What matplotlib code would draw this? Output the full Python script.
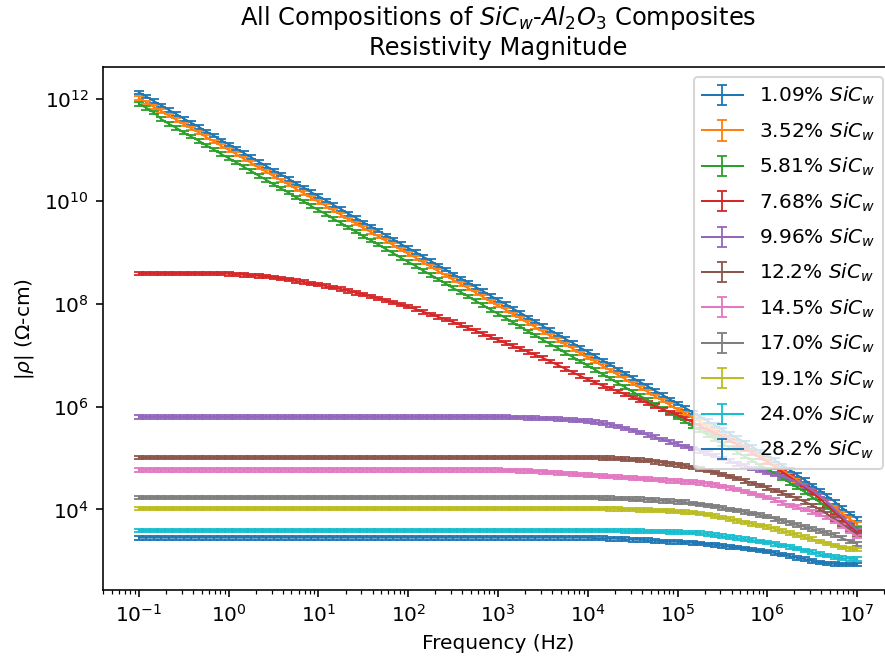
import numpy as np
import matplotlib
matplotlib.use('Agg')
import matplotlib.pyplot as plt

# frequency sweep: 0.1 Hz - 10 MHz, 12 points per decade
freq = np.logspace(-1, 7, 97)

labels = ['1.09%', '3.52%', '5.81%', '7.68%', '9.96%', '12.2%',
          '14.5%', '17.0%', '19.1%', '24.0%', '28.2%']

# log10 |rho| (Ohm-cm), one line per decade
lg_109 = [12.12, 12.04, 11.95, 11.87, 11.78, 11.70, 11.61, 11.53, 11.45, 11.36, 11.28, 11.19,
          11.11, 11.03, 10.94, 10.86, 10.77, 10.69, 10.60, 10.52, 10.44, 10.35, 10.27, 10.18,
          10.10, 10.02, 9.93, 9.85, 9.76, 9.68, 9.59, 9.51, 9.43, 9.34, 9.26, 9.17,
          9.09, 9.01, 8.92, 8.84, 8.75, 8.67, 8.58, 8.50, 8.42, 8.33, 8.25, 8.16,
          8.08, 8.00, 7.91, 7.83, 7.74, 7.66, 7.57, 7.49, 7.41, 7.32, 7.24, 7.15,
          7.07, 6.99, 6.90, 6.82, 6.73, 6.65, 6.56, 6.48, 6.40, 6.31, 6.23, 6.14,
          6.06, 5.98, 5.89, 5.81, 5.72, 5.64, 5.55, 5.47, 5.39, 5.30, 5.22, 5.13,
          5.05, 4.96, 4.86, 4.77, 4.67, 4.57, 4.47, 4.37, 4.26, 4.15, 4.03, 3.92,
          3.82]
lg_352 = [12.01, 11.93, 11.84, 11.76, 11.67, 11.59, 11.50, 11.42, 11.34, 11.25, 11.17, 11.08,
          11.00, 10.92, 10.83, 10.75, 10.66, 10.58, 10.49, 10.41, 10.33, 10.24, 10.16, 10.07,
          9.99, 9.91, 9.82, 9.74, 9.65, 9.57, 9.48, 9.40, 9.32, 9.23, 9.15, 9.06,
          8.98, 8.90, 8.81, 8.73, 8.64, 8.56, 8.47, 8.39, 8.31, 8.22, 8.14, 8.05,
          7.97, 7.89, 7.80, 7.72, 7.63, 7.55, 7.46, 7.38, 7.30, 7.21, 7.13, 7.04,
          6.96, 6.88, 6.79, 6.71, 6.62, 6.54, 6.45, 6.37, 6.29, 6.20, 6.12, 6.03,
          5.95, 5.87, 5.78, 5.70, 5.61, 5.53, 5.44, 5.36, 5.28, 5.19, 5.11, 5.02,
          4.94, 4.85, 4.76, 4.66, 4.56, 4.46, 4.36, 4.26, 4.15, 4.04, 3.92, 3.81,
          3.72]
lg_581 = [11.90, 11.82, 11.73, 11.60, 11.51, 11.43, 11.34, 11.26, 11.18, 11.09, 11.01, 10.92,
          10.84, 10.76, 10.67, 10.59, 10.50, 10.42, 10.33, 10.25, 10.17, 10.08, 10.00, 9.91,
          9.83, 9.75, 9.66, 9.58, 9.49, 9.41, 9.32, 9.24, 9.16, 9.07, 8.99, 8.90,
          8.82, 8.74, 8.65, 8.57, 8.48, 8.40, 8.31, 8.23, 8.15, 8.06, 7.98, 7.89,
          7.81, 7.73, 7.64, 7.56, 7.47, 7.39, 7.30, 7.22, 7.14, 7.05, 6.97, 6.88,
          6.80, 6.72, 6.63, 6.55, 6.46, 6.38, 6.29, 6.21, 6.13, 6.04, 5.96, 5.87,
          5.79, 5.71, 5.62, 5.54, 5.45, 5.37, 5.28, 5.20, 5.12, 5.03, 4.95, 4.86,
          4.78, 4.70, 4.61, 4.52, 4.43, 4.34, 4.24, 4.14, 4.04, 3.93, 3.82, 3.72,
          3.63]
lg_768 = [8.60] * 12 + [
          8.59, 8.58, 8.57, 8.56, 8.55, 8.54, 8.52, 8.50, 8.48, 8.45, 8.43, 8.40,
          8.38, 8.35, 8.32, 8.29, 8.26, 8.22, 8.19, 8.15, 8.11, 8.07, 8.03, 7.99,
          7.95, 7.90, 7.85, 7.80, 7.75, 7.70, 7.65, 7.59, 7.53, 7.48, 7.42, 7.36,
          7.30, 7.24, 7.18, 7.13, 7.07, 7.01, 6.95, 6.88, 6.81, 6.74, 6.67, 6.60,
          6.53, 6.47, 6.41, 6.36, 6.30, 6.24, 6.18, 6.12, 6.07, 6.01, 5.95, 5.89,
          5.84, 5.77, 5.70, 5.63, 5.56, 5.49, 5.42, 5.34, 5.26, 5.18, 5.10, 5.01,
          4.93, 4.83, 4.73, 4.63, 4.53, 4.43, 4.33, 4.21, 4.08, 3.95, 3.82, 3.68,
          3.55]
lg_996 = [5.80] * 48 + [
          5.80, 5.80, 5.79, 5.79, 5.78, 5.78, 5.77, 5.77, 5.76, 5.75, 5.74, 5.73,
          5.72, 5.70, 5.68, 5.65, 5.62, 5.58, 5.54, 5.50, 5.45, 5.41, 5.36, 5.31,
          5.27, 5.23, 5.19, 5.14, 5.10, 5.05, 4.99, 4.94, 4.89, 4.85, 4.80, 4.76,
          4.72, 4.68, 4.64, 4.59, 4.53, 4.46, 4.37, 4.27, 4.14, 4.00, 3.86, 3.72,
          3.60]
lg_122 = [5.01] * 60 + [
          5.01, 5.01, 5.00, 5.00, 4.99, 4.98, 4.97, 4.96, 4.95, 4.93, 4.91, 4.89,
          4.87, 4.85, 4.82, 4.79, 4.76, 4.72, 4.68, 4.64, 4.60, 4.56, 4.51, 4.47,
          4.42, 4.37, 4.32, 4.27, 4.21, 4.15, 4.08, 4.00, 3.91, 3.81, 3.71, 3.61,
          3.52]
lg_145 = [4.77] * 48 + [
          4.77, 4.76, 4.76, 4.75, 4.75, 4.74, 4.73, 4.72, 4.71, 4.70, 4.69, 4.68,
          4.67, 4.66, 4.65, 4.64, 4.63, 4.62, 4.61, 4.60, 4.59, 4.58, 4.57, 4.56,
          4.55, 4.54, 4.53, 4.52, 4.50, 4.48, 4.45, 4.42, 4.39, 4.35, 4.31, 4.27,
          4.23, 4.18, 4.13, 4.08, 4.05, 4.00, 3.95, 3.90, 3.84, 3.78, 3.68, 3.57,
          3.47]
lg_170 = [4.23] * 60 + [
          4.23, 4.23, 4.22, 4.22, 4.21, 4.21, 4.20, 4.20, 4.19, 4.18, 4.17, 4.16,
          4.15, 4.14, 4.12, 4.10, 4.08, 4.06, 4.03, 4.00, 3.98, 3.95, 3.92, 3.89,
          3.86, 3.82, 3.78, 3.74, 3.70, 3.66, 3.62, 3.58, 3.54, 3.50, 3.44, 3.38,
          3.33]
lg_191 = [4.02] * 60 + [
          4.02, 4.02, 4.02, 4.01, 4.01, 4.00, 4.00, 3.99, 3.99, 3.98, 3.98, 3.97,
          3.96, 3.95, 3.94, 3.92, 3.90, 3.87, 3.84, 3.81, 3.78, 3.75, 3.72, 3.69,
          3.66, 3.62, 3.58, 3.54, 3.50, 3.46, 3.42, 3.38, 3.34, 3.30, 3.26, 3.23,
          3.22]
lg_240 = [3.59] * 60 + [
          3.59, 3.59, 3.59, 3.59, 3.59, 3.58, 3.58, 3.58, 3.57, 3.57, 3.57, 3.56,
          3.56, 3.55, 3.55, 3.54, 3.52, 3.50, 3.48, 3.46, 3.44, 3.42, 3.40, 3.38,
          3.36, 3.33, 3.30, 3.27, 3.24, 3.20, 3.17, 3.13, 3.10, 3.07, 3.05, 3.04,
          3.03]
lg_282 = [3.45] * 60 + [
          3.45, 3.44, 3.44, 3.43, 3.43, 3.42, 3.41, 3.41, 3.40, 3.39, 3.38, 3.37,
          3.37, 3.36, 3.35, 3.34, 3.32, 3.31, 3.29, 3.27, 3.26, 3.24, 3.22, 3.20,
          3.18, 3.15, 3.12, 3.09, 3.06, 3.03, 3.00, 2.97, 2.95, 2.94, 2.93, 2.93,
          2.93]

series = [lg_109, lg_352, lg_581, lg_768, lg_996, lg_122,
          lg_145, lg_170, lg_191, lg_240, lg_282]

REL_ERR = 0.08  # relative error bar size

DPI = 145
fig = plt.figure(figsize=(885/DPI, 662/DPI), dpi=DPI)
ax = fig.add_axes([0.1164, 0.1088, 0.8927, 0.790])

for lab, lg in zip(labels, series):
    rho = 10 ** np.array(lg)
    ax.errorbar(freq, rho, yerr=REL_ERR*rho, capsize=2.5, linewidth=1.0,
                elinewidth=0.9, capthick=0.9, label=lab + ' $SiC_w$')

ax.set_xscale('log')
ax.set_yscale('log')
ax.autoscale_view()
ax.set_xlim(ax.get_xlim())
ax.set_ylim(ax.get_ylim())
ax.set_xticks(10.0 ** np.arange(-1, 8))
ax.set_yticks(10.0 ** np.arange(4, 13, 2))
ax.set_xlabel('Frequency (Hz)')
ax.set_ylabel(r'|$\rho$| ($\Omega$-cm)')
ax.set_title('All Compositions of $SiC_w$-$Al_2O_3$ Composites\nResistivity Magnitude')
ax.legend(loc='upper right', labelspacing=0.65)

fig.savefig('out.png', dpi=DPI)
